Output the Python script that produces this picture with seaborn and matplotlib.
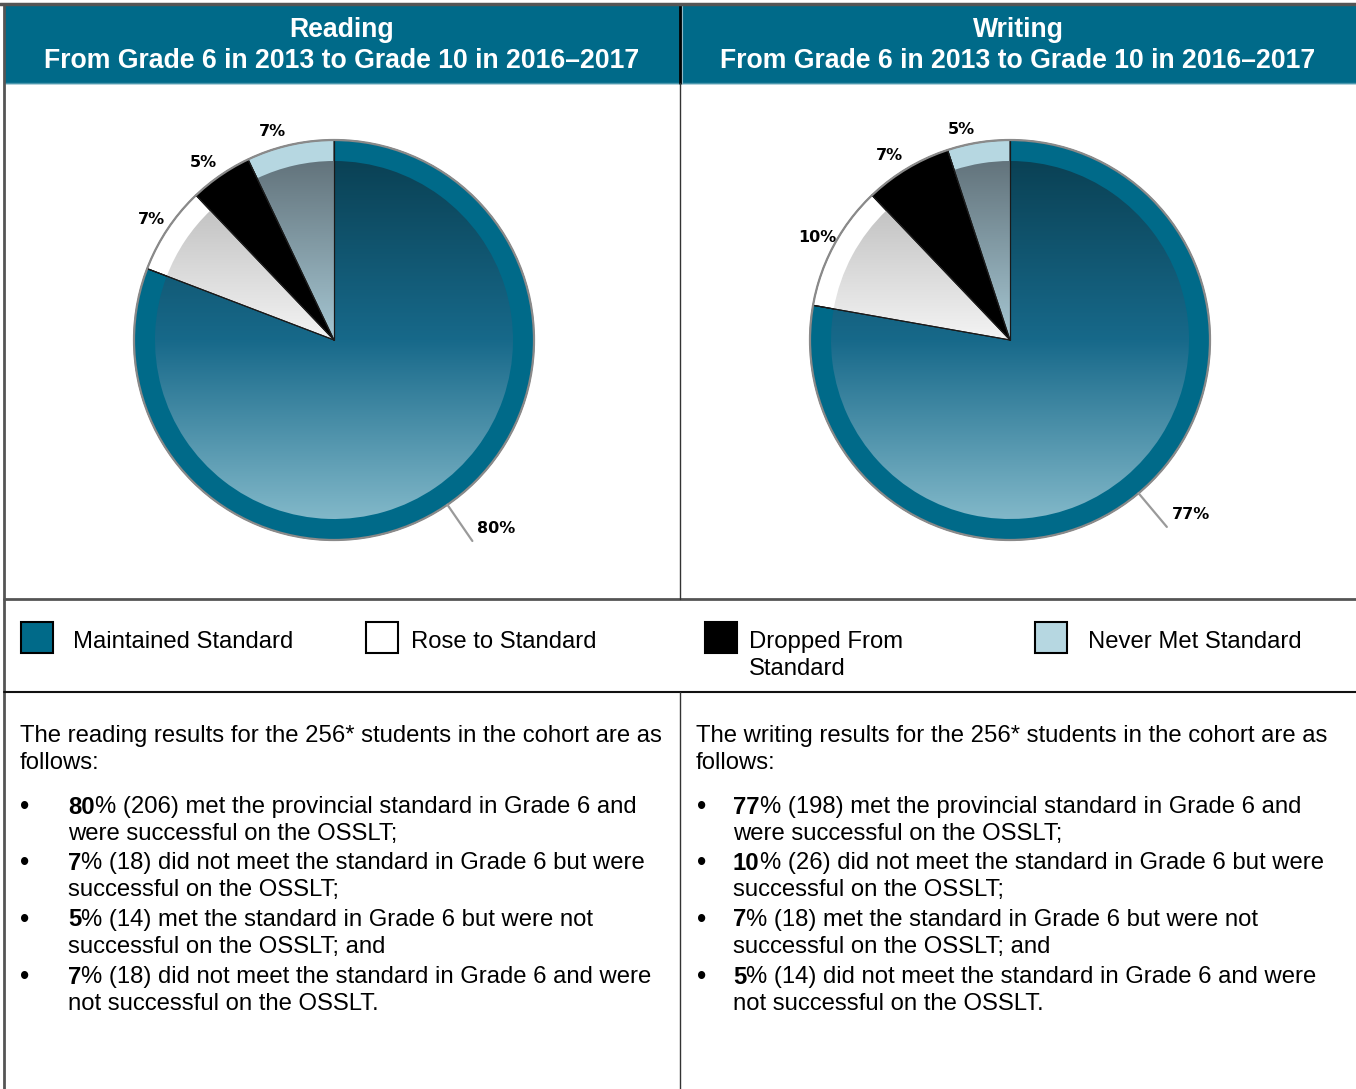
import matplotlib
matplotlib.use("Agg")
import matplotlib.pyplot as plt
import seaborn as sns
import numpy as np
from matplotlib.patches import Rectangle, Wedge, Circle
from matplotlib.colors import LinearSegmentedColormap

# data
categories = ["Maintained Standard", "Rose to Standard", "Dropped From\nStandard", "Never Met Standard"]
reading_pct = [80, 7, 5, 7]
reading_n = [206, 18, 14, 18]
writing_pct = [77, 10, 7, 5]
writing_n = [198, 26, 18, 14]
subjects = ["Reading", "Writing"]
subtitle = "From Grade 6 in 2013 to Grade 10 in 2016\u20132017"
bullet_text = [
    ("% ({n}) met the provincial standard in Grade 6 and", "were successful on the OSSLT;"),
    ("% ({n}) did not meet the standard in Grade 6 but were", "successful on the OSSLT;"),
    ("% ({n}) met the standard in Grade 6 but were not", "successful on the OSSLT; and"),
    ("% ({n}) did not meet the standard in Grade 6 and were", "not successful on the OSSLT."),
]
intro_text = ["The {s} results for the 256* students in the cohort are as", "follows:"]

# colours
teal = "#006a89"
ring_colors = [teal, "#ffffff", "#000000", "#b6d7e1"]
grad_colors = [
    ["#093d4f", "#17698a", "#8ec1d0"],
    ["#a9a9a9", "#f4f4f4", "#ffffff"],
    None,
    ["#5b6a72", "#a6c7d3", "#b8d8e2"],
]

sns.set_theme(style="white")
plt.rcParams["font.family"] = ["Liberation Sans", "DejaVu Sans"]
plt.rcParams["text.color"] = "black"
FS = 17.2

W, H = 1356, 1089
fig = plt.figure(figsize=(W / 100, H / 100), dpi=100)
bg = fig.add_axes([0, 0, 1, 1])
bg.set_xlim(0, W)
bg.set_ylim(H, 0)
bg.axis("off")

# header band
bg.add_patch(Rectangle((5, 5), W - 5, 78, color=teal, zorder=1))
bg.plot([5, W], [83, 83], color="#4a97ad", lw=1, zorder=2)
bg.plot([680, 680], [5, 83], color="#000000", lw=2, zorder=3)
bg.plot([682, 682], [5, 83], color="#8fb8c6", lw=0.8, zorder=3)
bg.plot([0, W], [4, 4], color="#555555", lw=2.5, zorder=3)
# frame lines
bg.plot([4, 4], [4, H], color="#555555", lw=2, zorder=3)
bg.plot([4, W], [599, 599], color="#555555", lw=2, zorder=3)
bg.plot([4, W], [692, 692], color="#111111", lw=1.5, zorder=3)
bg.plot([680, 680], [83, 599], color="#333333", lw=1, zorder=3)
bg.plot([680, 680], [692, H], color="#333333", lw=1, zorder=3)

col_centers = [342, 1018]
for cx, s in zip(col_centers, subjects):
    bg.text(cx, 30, s, color="white", fontsize=19.2, fontweight="bold", ha="center", va="center")
    bg.text(cx, 61, subtitle, color="white", fontsize=19.2, fontweight="bold", ha="center", va="center")


def draw_pie(center_px, pct):
    R = 200
    half = 1.3 * R
    ax = fig.add_axes([(center_px[0] - half) / W, (H - center_px[1] - half) / H, 2 * half / W, 2 * half / H])
    wedges, _ = ax.pie(pct, colors=ring_colors, startangle=90, counterclock=False, radius=1,
                       wedgeprops=dict(edgecolor="#1a1a1a", linewidth=0.8))
    grad = np.linspace(0, 1, 256).reshape(-1, 1)
    for w, gc in zip(wedges, grad_colors):
        if gc is None:
            continue
        inner = Wedge((0, 0), 0.895, w.theta1, w.theta2, fill=False, lw=0)
        ax.add_patch(inner)
        cmap = LinearSegmentedColormap.from_list("g", gc)
        im = ax.imshow(grad, extent=[-1, 1, -1, 1], cmap=cmap, origin="upper", aspect="auto", zorder=2)
        im.set_clip_path(inner)
    # wedge separators on top of gradients
    for w in wedges:
        for t in (w.theta1, w.theta2):
            a = np.deg2rad(t)
            ax.plot([0, np.cos(a)], [0, np.sin(a)], color="#1a1a1a", lw=0.8, zorder=3)
    ax.add_patch(Circle((0, 0), 1, fill=False, ec="#8a8a8a", lw=1.6, zorder=4))
    # labels
    for i, (w, p) in enumerate(zip(wedges, pct)):
        mid = np.deg2rad((w.theta1 + w.theta2) / 2)
        if i == 0:
            x0, y0 = np.cos(mid), np.sin(mid)
            x1, y1 = 1.22 * np.cos(mid), 1.22 * np.sin(mid)
            ax.plot([x0, x1], [y0, y1], color="#9a9a9a", lw=1.6, zorder=4)
            ax.text(x1 + 0.025, y1 + 0.06, f"{p}%", fontsize=11.5, fontweight="bold",
                    family="DejaVu Sans", ha="left", va="center")
        else:
            k = np.sin(mid) ** 4
            ax.annotate(f"{p}%", (1.09 * np.cos(mid), 1.09 * np.sin(mid)),
                        xytext=(-11 * k, -3.5 * k), textcoords="offset points",
                        fontsize=11.5, fontweight="bold", family="DejaVu Sans",
                        ha="center", va="center")
    ax.set_xlim(-1.3, 1.3)
    ax.set_ylim(-1.3, 1.3)
    ax.set_aspect("equal")
    ax.axis("off")


draw_pie((334, 340), reading_pct)
draw_pie((1010, 340), writing_pct)

# legend row
sq_x = [21, 366, 705, 1035]
txt_x = [73, 411, 749, 1088]
for c, sx, tx, lab in zip(ring_colors, sq_x, txt_x, categories):
    bg.add_patch(Rectangle((sx, 622), 32, 31, facecolor=c, edgecolor="#000000", lw=1.5, zorder=3))
    for j, line in enumerate(lab.split("\n")):
        bg.text(tx, 642 + 27 * j, line, fontsize=FS, ha="left", va="center")

# body text
renderer = fig.canvas.get_renderer()
cols = [(20, 25, 68, "reading", reading_pct, reading_n), (696, 702, 733, "writing", writing_pct, writing_n)]
bullet_y = [806, 862, 919, 976]
for tx, bx, lx, s, pct, n in cols:
    for j, line in enumerate(intro_text):
        bg.text(tx, 736 + 27 * j, line.format(s=s), fontsize=FS, ha="left", va="center")
    for y, p, k, (l1, l2) in zip(bullet_y, pct, n, bullet_text):
        bg.text(bx, y + 1, "\u2022", fontsize=FS + 2, ha="center", va="center")
        t = bg.text(lx, y + 1, str(p), fontsize=FS, fontweight="bold", ha="left", va="center")
        wpx = t.get_window_extent(renderer=renderer).width
        bg.text(lx + wpx, y + 1, l1.format(n=k), fontsize=FS, ha="left", va="center")
        bg.text(lx, y + 28, l2, fontsize=FS, ha="left", va="center")

fig.savefig("out.png", dpi=100)
